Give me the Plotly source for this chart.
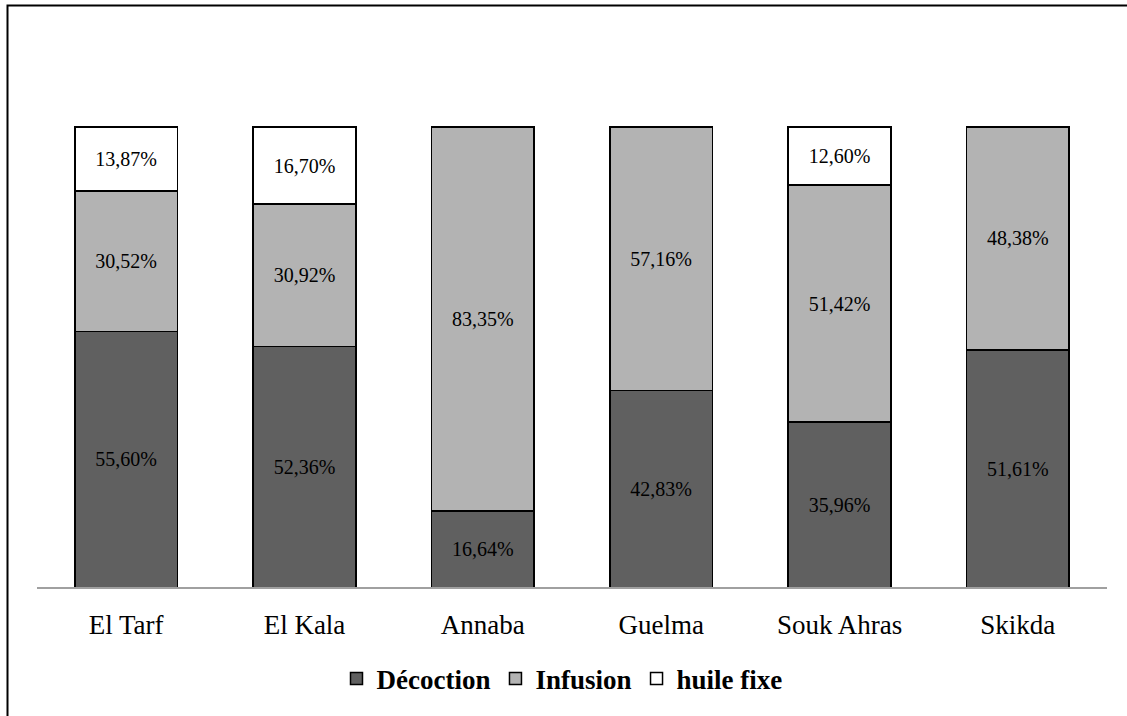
import plotly.graph_objects as go

categories = ["El Tarf", "El Kala", "Annaba", "Guelma", "Souk Ahras", "Skikda"]
decoction = [55.60, 52.36, 16.64, 42.83, 35.96, 51.61]
infusion = [30.52, 30.92, 83.35, 57.16, 51.42, 48.38]
huile_fixe = [13.87, 16.70, None, None, 12.60, None]

series = [
    ("Décoction", decoction, "#606060"),
    ("Infusion", infusion, "#b3b3b3"),
    ("huile fixe", huile_fixe, "#ffffff"),
]

def fmt(v):
    return "" if v is None else f"{v:.2f}%".replace(".", ",")

FONT = "Liberation Serif"

# pixel geometry of the page (figure 1127x716)
W, H = 1127, 716
ML, MR, MT, MB = 37, 20, 30, 20
BASE = 590    # y pixel of the baseline
TOP100 = 127.5  # y pixel of the 100% level
PH = H - MT - MB
ydom0 = (H - MB - BASE) / PH
YMAX = 100 * (BASE - MT) / (BASE - TOP100)

def py(pix):
    return (H - MB - pix) / PH

def px(pix):
    return (pix - ML) / (W - ML - MR)

fig = go.Figure()
for name, vals, color in series:
    fig.add_trace(go.Bar(
        x=categories, y=vals, name=name,
        marker=dict(color=color, line=dict(color="black", width=1.5)),
        width=0.575,
        text=[fmt(v) for v in vals], textposition="inside",
        insidetextanchor="middle", constraintext="none",
        textfont=dict(family=FONT, size=20, color="black"),
        hoverinfo="skip",
    ))

fig.update_layout(
    barmode="stack",
    width=W, height=H,
    margin=dict(l=ML, r=MR, t=MT, b=MB),
    paper_bgcolor="white", plot_bgcolor="white",
    font=dict(family=FONT, color="black"),
    xaxis=dict(showline=True, linecolor="#a0a0a0", linewidth=1.5,
               ticks="outside", ticklen=12, tickcolor="rgba(0,0,0,0)",
               tickfont=dict(family=FONT, size=27, color="black"),
               showgrid=False, zeroline=False, automargin=False),
    yaxis=dict(range=[0, YMAX], domain=[ydom0, 1], visible=False,
               showgrid=False, zeroline=False),
    showlegend=True,
    legend=dict(orientation="h", x=px(562), xanchor="center", y=py(682), yanchor="middle",
                font=dict(family=FONT, size=27, color="black", weight="bold"),
                itemwidth=30, tracegroupgap=0, traceorder="normal"),
    shapes=[dict(type="rect", xref="paper", yref="paper",
                 x0=px(7.5), x1=px(1140), y0=py(730), y1=py(5.5),
                 line=dict(color="black", width=2), fillcolor="rgba(0,0,0,0)", layer="above")],
)

fig.write_html("out.html", config={"displayModeBar": False},
               post_script="document.body.style.margin='0';document.body.style.overflow='hidden';")
